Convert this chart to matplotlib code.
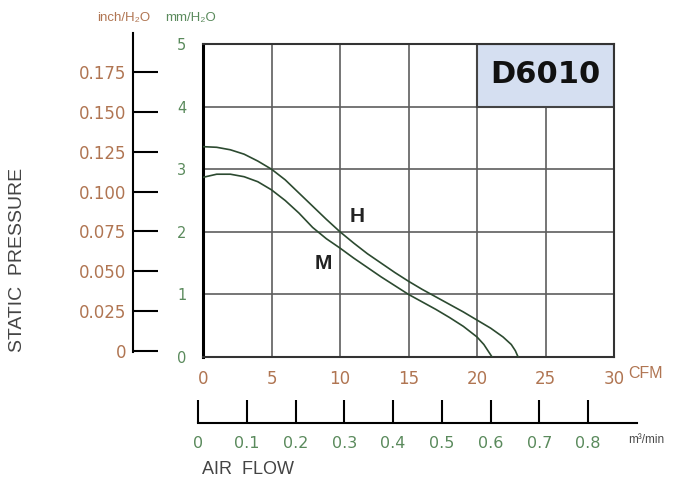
import numpy as np
import matplotlib.pyplot as plt
from matplotlib.patches import Rectangle

# curves (CFM, mm H2O)
h_cfm = [0, 1, 2, 3, 4, 5, 6, 7, 8, 9, 10, 11, 12, 13, 14, 15, 16, 17, 18, 19, 20, 21, 21.9, 22.5, 22.8, 23.0]
h_mm = [3.36, 3.35, 3.31, 3.24, 3.13, 3.0, 2.83, 2.62, 2.41, 2.2, 2.0, 1.82, 1.65, 1.5, 1.35, 1.21, 1.08, 0.96, 0.84, 0.72, 0.59, 0.46, 0.32, 0.2, 0.1, 0.0]
m_cfm = [0, 1, 2, 3, 4, 5, 6, 7, 8, 9, 10, 11, 12, 13, 14, 15, 16, 17, 18, 19, 20, 20.5, 20.8, 21.1]
m_mm = [2.87, 2.92, 2.92, 2.88, 2.8, 2.67, 2.5, 2.3, 2.07, 1.89, 1.74, 1.58, 1.43, 1.28, 1.14, 1.0, 0.88, 0.76, 0.63, 0.49, 0.32, 0.2, 0.1, 0.0]

cfm_ticks = [0, 5, 10, 15, 20, 25, 30]
mm_ticks = [0, 1, 2, 3, 4, 5]
inch_ticks = [0, 0.025, 0.05, 0.075, 0.1, 0.125, 0.15, 0.175]
inch_labels = ['0', '0.025', '0.050', '0.075', '0.100', '0.125', '0.150', '0.175']
air_ticks = [0, 0.1, 0.2, 0.3, 0.4, 0.5, 0.6, 0.7, 0.8]
air_labels = ['0', '0.1', '0.2', '0.3', '0.4', '0.5', '0.6', '0.7', '0.8']

BROWN = '#b07552'
GREEN = '#5a8a5c'
LINE = '#2c4a30'

W, H = 675, 479
fig = plt.figure(figsize=(6.75, 4.79), dpi=100)


def px_axes(x0, y0, x1, y1):
    # axes from pixel box (top-left origin)
    return fig.add_axes([x0 / W, 1 - y1 / H, (x1 - x0) / W, (y1 - y0) / H])


# main chart
ax = px_axes(203, 44, 614, 357)
ax.set_xlim(0, 30)
ax.set_ylim(0, 5)
ax.set_axisbelow(True)
ax.grid(True, color='#5e5e5e', lw=1.2)
ax.set_xticks(cfm_ticks)
ax.set_yticks(mm_ticks)
ax.set_xticklabels([str(t) for t in cfm_ticks], color=BROWN, fontsize=12)
ax.set_yticklabels([str(t) for t in mm_ticks], color=GREEN, fontsize=10.5)
ax.tick_params(length=0, pad=9)
ax.tick_params(axis='y', pad=12)
for s in ax.spines.values():
    s.set_color('#333333')
    s.set_linewidth(1.5)
ax.spines['left'].set_color('black')
ax.spines['left'].set_linewidth(2.2)

ax.add_patch(Rectangle((20, 4), 10, 1, facecolor='#d5dff1', edgecolor='#444444', lw=1.5, zorder=1))
ax.text(25, 4.52, 'D6010', ha='center', va='center', fontsize=22, fontweight='bold',
        family='DejaVu Sans', color='#111111', zorder=3)

ax.plot(h_cfm, h_mm, color=LINE, lw=1.2, zorder=4)
ax.plot(m_cfm, m_mm, color=LINE, lw=1.2, zorder=4)
ax.text(11.25, 2.24, 'H', ha='center', va='center', fontsize=15, fontweight='bold',
        family='Liberation Sans', color='#222222')
ax.text(8.75, 1.5, 'M', ha='center', va='center', fontsize=15, fontweight='bold',
        family='Liberation Sans', color='#222222')

# inch H2O scale on the left
ax_in = px_axes(133, 33, 160, 352)
ax_in.set_ylim(-0.0006, 0.1995)
ax_in.set_xlim(0, 1)
for k in ['top', 'right', 'bottom']:
    ax_in.spines[k].set_visible(False)
ax_in.spines['left'].set_linewidth(1.5)
ax_in.patch.set_alpha(0)
ax_in.set_xticks([])
ax_in.set_yticks(inch_ticks)
ax_in.set_yticklabels(inch_labels, color=BROWN, fontsize=12)
ax_in.tick_params(axis='y', direction='in', length=18, width=1.5, pad=5)

# airflow m3/min scale
ax_air = px_axes(198, 400, 637, 423)
ax_air.set_xlim(0, 0.9005)
ax_air.set_ylim(0, 1)
for k in ['top', 'right', 'left']:
    ax_air.spines[k].set_visible(False)
ax_air.spines['bottom'].set_linewidth(1.5)
ax_air.patch.set_alpha(0)
ax_air.set_yticks([])
ax_air.set_xticks(air_ticks)
ax_air.set_xticklabels(air_labels, color=GREEN, fontsize=11.5)
ax_air.tick_params(axis='x', direction='in', length=16.5, width=1.5, pad=9)

# unit and axis texts
fig.text(124 / W, 1 - 18 / H, 'inch/H\u2082O', color=BROWN, fontsize=9.5, ha='center', va='center',
         family='Liberation Sans')
fig.text(191 / W, 1 - 18 / H, 'mm/H\u2082O', color=GREEN, fontsize=9.5, ha='center', va='center',
         family='Liberation Sans')
fig.text(628 / W, 1 - 374 / H, 'CFM', color=BROWN, fontsize=11.5, ha='left', va='center',
         family='Liberation Sans')
fig.text(628 / W, 1 - 440 / H, 'm\u00b3/min', color='#4a4a4a', fontsize=8.5, ha='left', va='center',
         family='Liberation Sans')
fig.text(202 / W, 1 - 470 / H, 'AIR  FLOW', color='#444444', fontsize=13, ha='left', va='center',
         family='Liberation Sans')
fig.text(18 / W, 1 - 260 / H, 'STATIC  PRESSURE', color='#444444', fontsize=14, ha='center', va='center',
         rotation=90, family='Liberation Sans')

fig.savefig('out.png', dpi=100)
